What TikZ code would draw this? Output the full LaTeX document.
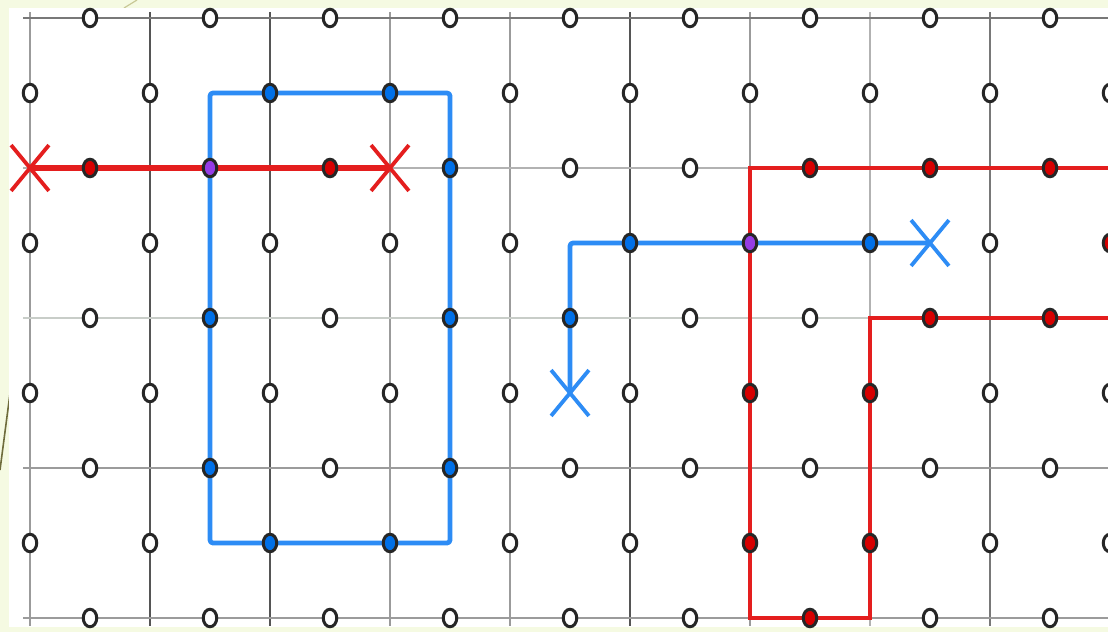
\documentclass[tikz,border=0pt]{standalone}
\usetikzlibrary{shapes.geometric,shapes.misc}
\definecolor{slidebg}{RGB}{245,250,226}
\definecolor{decoline}{RGB}{110,108,60}
\definecolor{decolight}{RGB}{200,200,150}
\definecolor{pathblue}{RGB}{45,140,245}
\definecolor{pathred}{RGB}{228,30,30}
\definecolor{dotred}{RGB}{215,0,0}
\definecolor{dotblue}{RGB}{0,112,232}
\definecolor{dotpurple}{RGB}{150,60,230}
\definecolor{gA}{RGB}{85,85,85}
\definecolor{gB}{RGB}{120,120,120}
\definecolor{gC}{RGB}{155,155,155}
\definecolor{gD}{RGB}{178,178,178}
\definecolor{gE}{RGB}{200,205,200}
\tikzset{
  gridline/.style={line width=2.5pt},
  qubit/.style={ellipse, draw=black!85, line width=3pt, fill=white,
    minimum width=13.5pt, minimum height=17.5pt, inner sep=0pt},
  qred/.style={fill=dotred},
  qblue/.style={fill=dotblue},
  qpurple/.style={fill=dotpurple},
  bluepath/.style={draw=pathblue, line width=4.8pt, line join=round},
  redpath/.style={draw=pathred, line width=4.8pt},
  crossmark/.style={cross out, draw, line width=3.8pt, minimum width=34pt,
    minimum height=42pt, inner sep=0pt},
  qs h-0-1/.style=qred, qs h-1-1/.style=qpurple, qs h-2-1/.style=qred,
  qs h-3-1/.style=qblue, qs h-6-1/.style=qred, qs h-7-1/.style=qred,
  qs h-8-1/.style=qred, qs h-1-2/.style=qblue, qs h-3-2/.style=qblue,
  qs h-4-2/.style=qblue, qs h-7-2/.style=qred, qs h-8-2/.style=qred,
  qs h-1-3/.style=qblue, qs h-3-3/.style=qblue, qs h-6-4/.style=qred,
  qs v-2-0/.style=qblue, qs v-3-0/.style=qblue, qs v-5-1/.style=qblue,
  qs v-6-1/.style=qpurple, qs v-7-1/.style=qblue, qs v-9-1/.style=qred,
  qs v-6-2/.style=qred, qs v-7-2/.style=qred, qs v-2-3/.style=qblue,
  qs v-3-3/.style=qblue, qs v-6-3/.style=qred, qs v-7-3/.style=qred,
}
\begin{document}
\begin{tikzpicture}[x=1pt,y=-1pt]
\useasboundingbox (0,0) rectangle (1108,632);
\fill[slidebg] (0,0) rectangle (1108,632);
\draw[decoline, line width=1.6pt] (0,470) -- (11,386);
\draw[decolight, line width=1.2pt] (124,8) -- (137,0);
\fill[white] (9,8) rectangle (1108,627);
\begin{scope}
\clip (0,0) rectangle (1108,632);
% lattice sites
\foreach \i in {0,...,9} \foreach \j in {0,...,4}
  \coordinate (s-\i-\j) at ({30+120*\i},{18+150*\j});
\foreach \i in {0,...,8} \foreach \j in {0,...,3}
  \coordinate (p-\i-\j) at ({90+120*\i},{93+150*\j});
\foreach \i in {0,...,8} \foreach \j in {0,...,4}
  \coordinate (hc-\i-\j) at ({90+120*\i},{18+150*\j});
\foreach \i in {0,...,9} \foreach \j in {0,...,3}
  \coordinate (vc-\i-\j) at ({30+120*\i},{93+150*\j});
% grid lines
\foreach \i/\c in {0/gC,1/gA,2/gA,3/gC,4/gC,5/gA,6/gC,7/gD,8/gB,9/gC}
  \draw[gridline, draw=\c] ([yshift=6pt]s-\i-0) -- ([yshift=-8pt]s-\i-4);
\foreach \j/\c in {0/gB,1/gD,2/gE,3/gC,4/gC}
  \draw[gridline, draw=\c] ([xshift=-7pt]s-0-\j) -- ([xshift=6pt]s-9-\j);
% strings
\draw[redpath, line width=6pt] (s-0-1) -- (s-3-1);
\draw[redpath] (s-6-1) -- (s-9-1) -- (s-9-2) -- (s-7-2) -- (s-7-4) -- (s-6-4) -- cycle;
\draw[bluepath, rounded corners=3pt] (p-1-0) -- (p-3-0) -- (p-3-3) -- (p-1-3) -- cycle;
\draw[bluepath, rounded corners=3pt] (p-4-2) -- (p-4-1) -- (p-7-1);
% qubits
\foreach \i in {0,...,8} \foreach \j in {0,...,4}
  \node[qubit, qs h-\i-\j/.try] (h-\i-\j) at (hc-\i-\j) {};
\foreach \i in {0,...,9} \foreach \j in {0,...,3}
  \node[qubit, qs v-\i-\j/.try] (v-\i-\j) at (vc-\i-\j) {};
% end points
\node[crossmark, draw=pathred] (xr1) at (s-0-1) {};
\node[crossmark, draw=pathred] (xr2) at (s-3-1) {};
\node[crossmark, draw=pathblue] (xb1) at (p-4-2) {};
\node[crossmark, draw=pathblue] (xb2) at (p-7-1) {};
\end{scope}
\end{tikzpicture}
\end{document}
